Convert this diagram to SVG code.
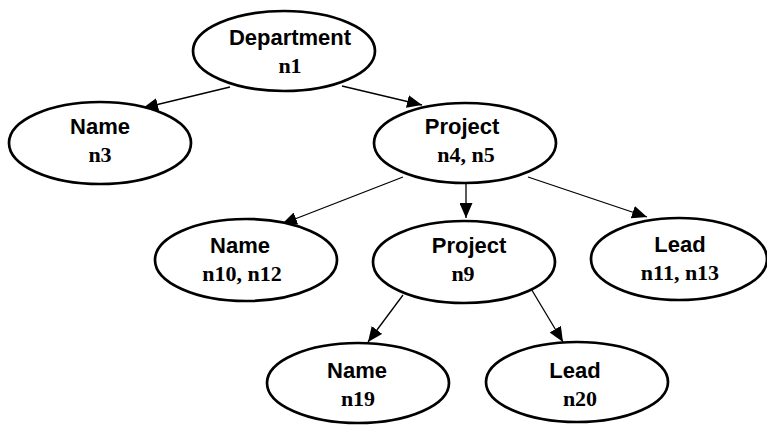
<svg xmlns="http://www.w3.org/2000/svg" width="767" height="425" viewBox="0 0 767 425">
<style>
.node ellipse{fill:#fff;stroke:#000;stroke-width:2.7}
.lbl{font-family:"Liberation Sans",Arial,sans-serif;font-weight:bold;font-size:22px;text-anchor:middle;fill:#000}
.id{font-family:"Liberation Serif","Times New Roman",serif;font-weight:bold;font-size:22px;text-anchor:middle;fill:#000}
.edges line{stroke:#000;stroke-width:1.3;marker-end:url(#arr)}
</style>
<defs>
<marker id="arr" markerUnits="userSpaceOnUse" markerWidth="16" markerHeight="13" refX="15" refY="6.5" orient="auto">
<path d="M0,0 L15,6.5 L0,13 z" fill="#000"/>
</marker>
</defs>
<rect width="767" height="425" fill="#fff"/>
<g class="edges" id="connectors">
<line x1="230" y1="87" x2="143" y2="108"/>
<line x1="342" y1="86" x2="422" y2="105"/>
<line x1="403" y1="177" x2="282" y2="224"/>
<line x1="466" y1="184" x2="466" y2="218"/>
<line x1="528" y1="177" x2="647" y2="217"/>
<line x1="403" y1="295" x2="368" y2="342"/>
<line x1="530" y1="287" x2="563" y2="342"/>
</g>
<g class="node" id="n1">
<ellipse cx="284" cy="51" rx="91" ry="40"/>
<text class="lbl" x="290" y="45">Department</text>
<text class="id" x="290" y="73">n1</text>
</g>
<g class="node" id="n3">
<ellipse cx="100" cy="143" rx="91" ry="41"/>
<text class="lbl" x="100" y="134">Name</text>
<text class="id" x="100" y="162">n3</text>
</g>
<g class="node" id="n4n5">
<ellipse cx="465" cy="143" rx="91" ry="40"/>
<text class="lbl" x="462" y="134">Project</text>
<text class="id" x="466" y="162">n4, n5</text>
</g>
<g class="node" id="n10n12">
<ellipse cx="246" cy="260" rx="91" ry="41"/>
<text class="lbl" x="240" y="253">Name</text>
<text class="id" x="242" y="281">n10, n12</text>
</g>
<g class="node" id="n9">
<ellipse cx="464" cy="262" rx="91" ry="41"/>
<text class="lbl" x="469" y="253">Project</text>
<text class="id" x="463" y="281">n9</text>
</g>
<g class="node" id="n11n13">
<ellipse cx="679" cy="259" rx="88" ry="41"/>
<text class="lbl" x="680" y="252">Lead</text>
<text class="id" x="680" y="280">n11, n13</text>
</g>
<g class="node" id="n19">
<ellipse cx="358" cy="383" rx="91" ry="40"/>
<text class="lbl" x="357" y="378">Name</text>
<text class="id" x="358" y="406">n19</text>
</g>
<g class="node" id="n20">
<ellipse cx="577" cy="382" rx="91" ry="40"/>
<text class="lbl" x="575" y="378">Lead</text>
<text class="id" x="580" y="406">n20</text>
</g>
</svg>
